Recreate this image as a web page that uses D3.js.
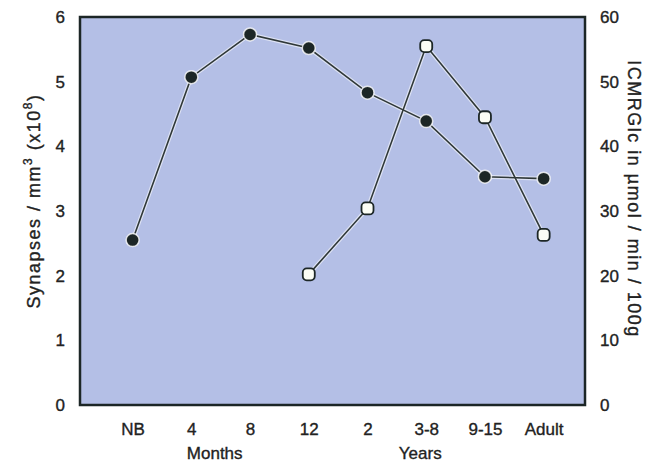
<!DOCTYPE html>
<html>
<head>
<meta charset="utf-8">
<script src="https://cdn.jsdelivr.net/npm/d3@7"></script>
<style>
  body { margin: 0; background: #fff; }
  svg text { font-family: "Liberation Sans", Arial, sans-serif; fill: #222; stroke: #222; stroke-width: 0.35px; }
</style>
</head>
<body>
<div id="chart"></div>
<script>
// ── Data ────────────────────────────────────────────────────────────────────
const categories = ['NB', '4', '8', '12', '2', '3-8', '9-15', 'Adult'];
const synapses = [2.55, 5.07, 5.73, 5.52, 4.83, 4.39, 3.53, 3.50];      // left axis
const cmrglc = [null, null, null, 20.2, 30.4, 55.5, 44.5, 26.3];         // right axis
const leftTicks = [0, 1, 2, 3, 4, 5, 6];
const rightTicks = [0, 10, 20, 30, 40, 50, 60];
const groupLabels = [
  { text: 'Months', from: '4', to: '8' },
  { text: 'Years', from: '2', to: '9-15' }
];

const W = 650, H = 474;
const M = { top: 17, right: 65, bottom: 69, left: 80 };
const iW = W - M.left - M.right;
const iH = H - M.top - M.bottom;

const BG = '#b4bfe6';
const INK = '#1c2626';

const svg = d3.select('#chart').append('svg')
  .attr('width', W).attr('height', H);

const g = svg.append('g').attr('transform', `translate(${M.left},${M.top})`);

const x = d3.scalePoint().domain(categories).range([0, iW]).padding(0.8).align(0.56);
const yL = d3.scaleLinear().domain([0, 6]).range([iH, 0]);
const yR = d3.scaleLinear().domain([0, 60]).range([iH, 0]);

// plot area
g.append('rect')
  .attr('width', iW).attr('height', iH)
  .attr('fill', BG)
  .attr('stroke', INK).attr('stroke-width', 2.5);

// ── Axes ────────────────────────────────────────────────────────────────────
function styleAxis(sel) {
  sel.select('.domain').remove();
  sel.selectAll('.tick line').remove();
  sel.selectAll('.tick text').attr('font-size', 17).attr('fill', '#222');
}

g.append('g')
  .call(d3.axisLeft(yL).tickValues(leftTicks).tickFormat(d3.format('d')).tickPadding(9))
  .call(styleAxis);

g.append('g')
  .attr('transform', `translate(${iW},0)`)
  .call(d3.axisRight(yR).tickValues(rightTicks).tickFormat(d3.format('d')).tickPadding(9))
  .call(styleAxis);

g.append('g')
  .attr('transform', `translate(0,${iH})`)
  .call(d3.axisBottom(x).tickPadding(12))
  .call(styleAxis);

// group labels under the x axis
g.selectAll('.group-label')
  .data(groupLabels)
  .join('text')
  .attr('class', 'group-label')
  .attr('x', d => (x(d.from) + x(d.to)) / 2 - 6)
  .attr('y', iH + 54)
  .attr('text-anchor', 'middle')
  .attr('font-size', 17)
  .text(d => d.text);

// left title
const lt = svg.append('text')
  .attr('transform', `translate(40,${M.top + iH / 2 - 10}) rotate(-90)`)
  .attr('text-anchor', 'middle')
  .attr('font-size', 18)
  .attr('letter-spacing', 1.5);
lt.append('tspan').text('Synapses / mm');
lt.append('tspan').attr('dy', -8).attr('font-size', 12).text('3');
lt.append('tspan').attr('dy', 8).text(' (x10');
lt.append('tspan').attr('dy', -8).attr('font-size', 12).text('8');
lt.append('tspan').attr('dy', 8).text(')');

// right title
svg.append('text')
  .attr('transform', `translate(628,${M.top + iH / 2 - 12}) rotate(90)`)
  .attr('text-anchor', 'middle')
  .attr('font-size', 18)
  .attr('letter-spacing', 1.5)
  .text('ICMRGlc in \u00b5mol / min / 100g');

// ── Series ──────────────────────────────────────────────────────────────────
const synPts = categories.map((c, i) => ({ c, v: synapses[i] })).filter(d => d.v != null);
const cmrPts = categories.map((c, i) => ({ c, v: cmrglc[i] })).filter(d => d.v != null);

const lineL = d3.line().x(d => x(d.c)).y(d => yL(d.v));
const lineR = d3.line().x(d => x(d.c)).y(d => yR(d.v));

// halos
[[synPts, lineL], [cmrPts, lineR]].forEach(([pts, ln]) => {
  g.append('path').datum(pts)
    .attr('fill', 'none').attr('stroke', 'rgba(255,255,255,0.55)').attr('stroke-width', 4)
    .attr('d', ln);
});
[[synPts, lineL], [cmrPts, lineR]].forEach(([pts, ln]) => {
  g.append('path').datum(pts)
    .attr('fill', 'none').attr('stroke', '#2f3838').attr('stroke-width', 1.6)
    .attr('d', ln);
});

g.selectAll('.syn-dot')
  .data(synPts)
  .join('circle')
  .attr('class', 'syn-dot')
  .attr('cx', d => x(d.c))
  .attr('cy', d => yL(d.v))
  .attr('r', 6.5)
  .attr('fill', INK)
  .attr('stroke', 'rgba(255,255,255,0.8)')
  .attr('stroke-width', 1.5);

g.selectAll('.cmr-dot')
  .data(cmrPts)
  .join('rect')
  .attr('class', 'cmr-dot')
  .attr('x', d => x(d.c) - 6)
  .attr('y', d => yR(d.v) - 6)
  .attr('width', 12).attr('height', 12)
  .attr('rx', 4)
  .attr('fill', '#fbfdf5')
  .attr('stroke', INK)
  .attr('stroke-width', 1.8);
</script>
</body>
</html>
